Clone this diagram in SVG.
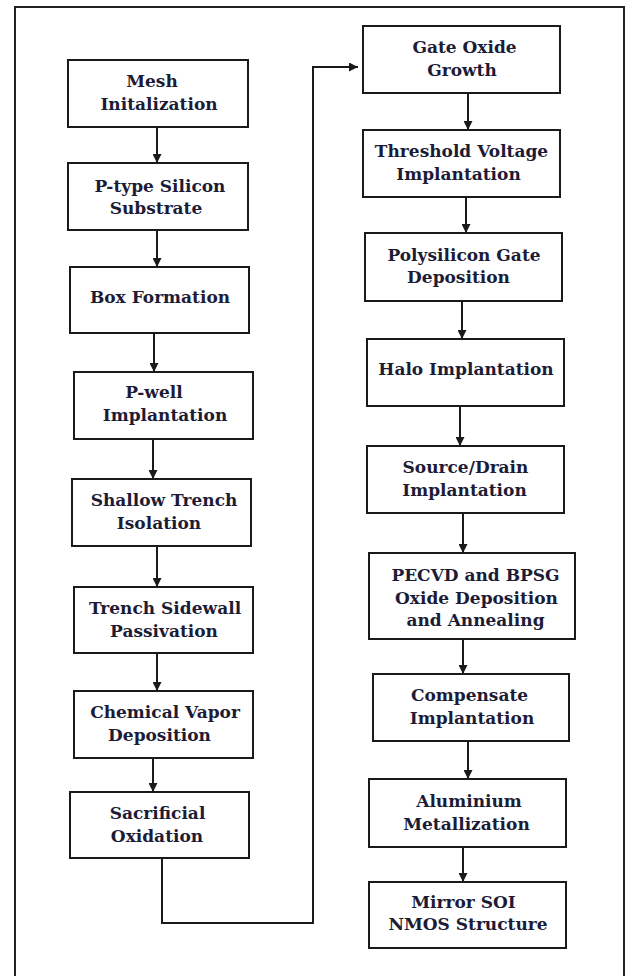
<svg xmlns="http://www.w3.org/2000/svg" width="626" height="976" viewBox="0 0 626 976">
<style>
.box{fill:#fff;stroke:#1a1a1a;stroke-width:2}
.t{font-family:"DejaVu Serif","Liberation Serif",serif;font-weight:bold;font-size:17px;fill:#1c1c36;text-anchor:middle}
.c{fill:none;stroke:#1a1a1a;stroke-width:2}
</style>
<defs>
<marker id="ah" markerUnits="userSpaceOnUse" markerWidth="9" markerHeight="9" refX="9" refY="4.5" orient="auto">
<path d="M0,0 L9,4.5 L0,9 z" fill="#1a1a1a"/>
</marker>
</defs>
<rect x="15" y="7" width="609" height="985" fill="none" stroke="#222" stroke-width="2"/>
<g id="connectors">
<path class="c" d="M157,127 V163" marker-end="url(#ah)"/>
<path class="c" d="M157,230 V267" marker-end="url(#ah)"/>
<path class="c" d="M154,333 V372" marker-end="url(#ah)"/>
<path class="c" d="M153,439 V479" marker-end="url(#ah)"/>
<path class="c" d="M157,546 V587" marker-end="url(#ah)"/>
<path class="c" d="M157,653 V691" marker-end="url(#ah)"/>
<path class="c" d="M153,758 V792" marker-end="url(#ah)"/>
<path class="c" d="M162,858 V923 H313 V67 H358" marker-end="url(#ah)"/>
<path class="c" d="M468,93 V130" marker-end="url(#ah)"/>
<path class="c" d="M466,197 V233" marker-end="url(#ah)"/>
<path class="c" d="M462,301 V339" marker-end="url(#ah)"/>
<path class="c" d="M460,406 V446" marker-end="url(#ah)"/>
<path class="c" d="M463,513 V553" marker-end="url(#ah)"/>
<path class="c" d="M463,639 V674" marker-end="url(#ah)"/>
<path class="c" d="M468,741 V779" marker-end="url(#ah)"/>
<path class="c" d="M463,847 V882" marker-end="url(#ah)"/>
</g>
<g id="mesh"><rect class="box" x="68" y="60" width="180" height="67"/>
<text class="t" x="152" y="87">Mesh</text><text class="t" x="159" y="110">Initalization</text></g>
<g id="ptype"><rect class="box" x="68" y="163" width="180" height="67"/>
<text class="t" x="160" y="192">P-type Silicon</text><text class="t" x="156" y="214">Substrate</text></g>
<g id="box"><rect class="box" x="70" y="267" width="179" height="66"/>
<text class="t" x="160" y="303">Box Formation</text></g>
<g id="pwell"><rect class="box" x="74" y="372" width="179" height="67"/>
<text class="t" x="154" y="398">P-well</text><text class="t" x="165" y="421">Implantation</text></g>
<g id="sti"><rect class="box" x="72" y="479" width="179" height="67"/>
<text class="t" x="164" y="506">Shallow Trench</text><text class="t" x="159" y="529">Isolation</text></g>
<g id="tsp"><rect class="box" x="74" y="587" width="179" height="66"/>
<text class="t" x="165" y="613.5">Trench Sidewall</text><text class="t" x="164" y="636.5">Passivation</text></g>
<g id="cvd"><rect class="box" x="74" y="691" width="179" height="67"/>
<text class="t" x="165" y="718">Chemical Vapor</text><text class="t" x="159.5" y="741">Deposition</text></g>
<g id="sac"><rect class="box" x="70" y="792" width="179" height="66"/>
<text class="t" x="157.5" y="818.5">Sacrificial</text><text class="t" x="157" y="841.5">Oxidation</text></g>
<g id="gox"><rect class="box" x="363" y="26" width="197" height="67"/>
<text class="t" x="464.5" y="53">Gate Oxide</text><text class="t" x="462" y="76">Growth</text></g>
<g id="vt"><rect class="box" x="363" y="130" width="197" height="67"/>
<text class="t" x="461.5" y="157">Threshold Voltage</text><text class="t" x="458.5" y="180">Implantation</text></g>
<g id="poly"><rect class="box" x="365" y="233" width="197" height="68"/>
<text class="t" x="464" y="261">Polysilicon Gate</text><text class="t" x="458.5" y="283">Deposition</text></g>
<g id="halo"><rect class="box" x="367" y="339" width="197" height="67"/>
<text class="t" x="466" y="375">Halo Implantation</text></g>
<g id="sd"><rect class="box" x="367" y="446" width="197" height="67"/>
<text class="t" x="465.5" y="473">Source/Drain</text><text class="t" x="464.5" y="496">Implantation</text></g>
<g id="pecvd"><rect class="box" x="369" y="553" width="206" height="86"/>
<text class="t" x="475.5" y="581">PECVD and BPSG</text><text class="t" x="476.5" y="603.5">Oxide Deposition</text><text class="t" x="475.5" y="626">and Annealing</text></g>
<g id="comp"><rect class="box" x="373" y="674" width="196" height="67"/>
<text class="t" x="469.5" y="701">Compensate</text><text class="t" x="472" y="724">Implantation</text></g>
<g id="al"><rect class="box" x="369" y="779" width="197" height="68"/>
<text class="t" x="469" y="806.5">Aluminium</text><text class="t" x="466.5" y="829.5">Metallization</text></g>
<g id="mirror"><rect class="box" x="369" y="882" width="197" height="66"/>
<text class="t" x="463.5" y="907.5">Mirror SOI</text><text class="t" x="468" y="930">NMOS Structure</text></g>
</svg>
